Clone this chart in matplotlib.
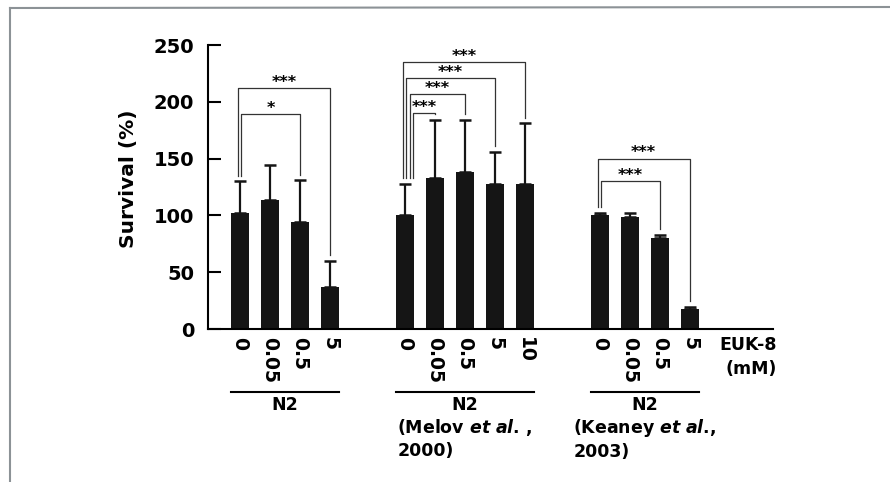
import matplotlib.pyplot as plt
from matplotlib.lines import Line2D
import matplotlib.transforms as mtransforms

plt.rcParams['font.family'] = ['DejaVu Sans']
plt.rcParams['mathtext.fontset'] = 'custom'
plt.rcParams['mathtext.bfit'] = 'DejaVu Sans:bold:italic'

# data
doses = [["0", "0.05", "0.5", "5"],
         ["0", "0.05", "0.5", "5", "10"],
         ["0", "0.05", "0.5", "5"]]
survival = [[102, 114, 94, 37],
            [100, 133, 138, 128, 128],
            [100, 99, 80, 17.6]]
sd = [[28, 30, 37, 23],
      [28, 51, 46, 28, 53],
      [2.5, 3.5, 3, 2]]
group_names = ["N2", "N2", "N2"]
citations = ["", "(Melov $\\mathbfit{et\\ al}$. ,\n2000)",
             "(Keaney $\\mathbfit{et\\ al}$.,\n2003)"]
# (group, left bar, right bar, height, label)
brackets = [(0, 0, 3, 212, "***"), (0, 0, 2, 189, "*"),
            (1, 0, 4, 235, "***"), (1, 0, 3, 221, "***"),
            (1, 0, 2, 207, "***"), (1, 0, 1, 190, "***"),
            (2, 0, 3, 150, "***"), (2, 0, 2, 130, "***")]

fig = plt.figure(figsize=(8.9, 4.82), dpi=100)
ax = fig.add_axes([0.2337, 0.3174, 0.6348, 0.5892])

# bar positions, groups separated by a gap
pos = []
start = 0.0
for g in doses:
    pos.append([start + k for k in range(len(g))])
    start += len(g) - 1 + 2.5

for p, m, e in zip(pos, survival, sd):
    ax.bar(p, m, width=0.6, color="#151515", zorder=2)
    ax.errorbar(p, m, yerr=[[0] * len(e), e], fmt="none", ecolor="#151515",
                elinewidth=1.6, capsize=4, capthick=1.8, zorder=3)

# significance brackets
rank = {}
for g, i, j, h, lab in brackets:
    r = rank.get(g, 0)
    rank[g] = r + 1
    xl = pos[g][i] - 0.08 + 0.12 * r
    xr = pos[g][j]
    yl = survival[g][i] + sd[g][i] + 5
    yr = survival[g][j] + sd[g][j] + 5
    ax.plot([xl, xl, xr, xr], [yl, h, h, yr], color="#333333", lw=0.9, zorder=4)
    ax.text((xl + xr) / 2, h - 1.5, lab, ha="center", va="bottom",
            fontsize=11.5, fontweight="bold")

flat_pos = [x for p in pos for x in p]
flat_lab = [d for g in doses for d in g]
ax.set_xticks(flat_pos, flat_lab, rotation=-90, fontsize=13.5, fontweight="bold")
ax.tick_params(axis="x", length=0, pad=6)
ax.set_yticks([0, 50, 100, 150, 200, 250])
ax.tick_params(axis="y", direction="in", length=9, width=1.5, labelsize=14, pad=10)
for t in ax.get_yticklabels():
    t.set_fontweight("bold")
ax.set_xlim(-1.07, 17.77)
ax.set_ylim(0, 250)
ax.spines[["top", "right"]].set_visible(False)
ax.spines["left"].set_linewidth(1.5)
ax.spines["bottom"].set_linewidth(1.5)
ax.set_ylabel("Survival (%)", fontsize=14.5, fontweight="bold")
ax.yaxis.set_label_coords(-0.124, 0.53)

# group labels under the axis
trans = mtransforms.blended_transform_factory(ax.transData, ax.transAxes)
for p, name, cit in zip(pos, group_names, citations):
    ax.add_line(Line2D([p[0] - 0.3, p[-1] + 0.3], [-0.222, -0.222], color="black",
                       lw=1.5, transform=trans, clip_on=False))
    mid = sum(p) / len(p)
    ax.text(mid, -0.268, name, transform=trans, ha="center", va="center",
            fontsize=12.5, fontweight="bold")
    if cit:
        ax.text(mid, -0.31, cit, transform=trans, ha="center", va="top",
                multialignment="left", fontsize=12.5, fontweight="bold", linespacing=1.3)

fig.text(777 / 890, 1 - 357 / 482, "EUK-8\n(mM)", ha="right", va="center",
         multialignment="right", fontsize=12.5, fontweight="bold", linespacing=1.4)

# scanned frame edges
fig.add_artist(Line2D([10 / 890, 1], [1 - 8 / 482, 1 - 7 / 482], color="#8c9296", lw=1.5))
fig.add_artist(Line2D([10 / 890, 10 / 890], [0, 1 - 8 / 482], color="#8c9296", lw=1.5))

fig.savefig("out.png", dpi=100)
